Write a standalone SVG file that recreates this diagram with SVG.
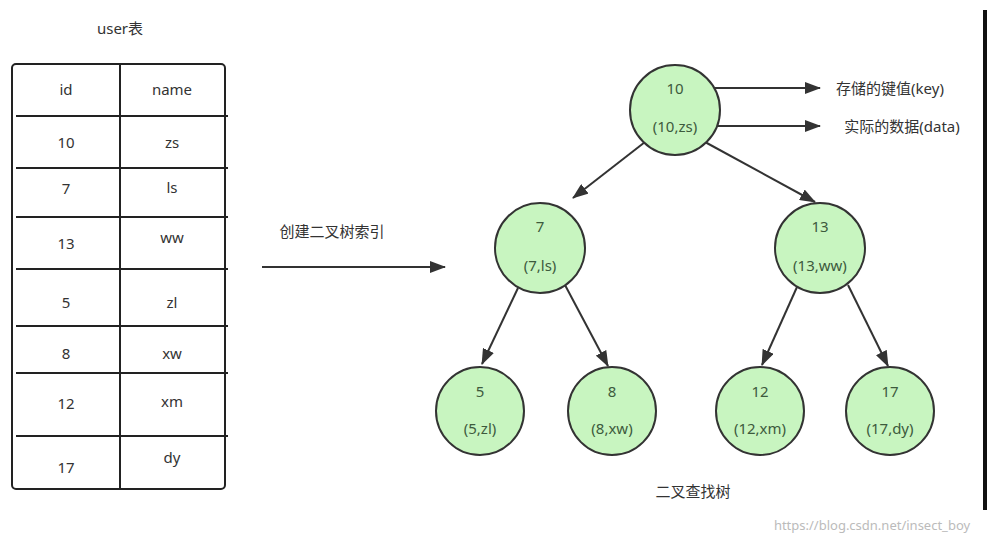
<svg xmlns="http://www.w3.org/2000/svg" width="991" height="543" viewBox="0 0 991 543">
<style>
text{font-family:"Microsoft YaHei","Noto Sans","Noto Sans CJK SC",sans-serif;font-size:15px;fill:#333;text-anchor:middle}
.n circle{fill:#c8f5c0;stroke:#333;stroke-width:2}
.n text{fill:#3d5a3d}
.t line{stroke:#222;stroke-width:2}
.c line{stroke:#333;stroke-width:2;marker-end:url(#a)}
</style>
<defs><marker id="a" markerWidth="16" markerHeight="12" refX="15" refY="6" orient="auto" markerUnits="userSpaceOnUse" viewBox="0 0 16 12"><path d="M0,0L16,6L0,12z" fill="#333"/></marker></defs>
<rect width="991" height="543" fill="#fff"/>
<rect x="983" y="10" width="4" height="500" fill="#111"/>
<text x="120" y="34">user表</text>
<g id="table" class="t">
<rect x="12" y="64" width="213" height="425" rx="4" fill="none" stroke="#222" stroke-width="2"/>
<line x1="120" y1="64" x2="120" y2="489"/>
<line x1="16" y1="116" x2="228" y2="116"/><line x1="16" y1="168" x2="228" y2="168"/><line x1="16" y1="217" x2="228" y2="217"/><line x1="16" y1="269" x2="228" y2="269"/><line x1="16" y1="326" x2="228" y2="326"/><line x1="16" y1="373" x2="228" y2="373"/><line x1="16" y1="436" x2="228" y2="436"/>
<text x="66" y="95">id</text><text x="172" y="95">name</text>
<text x="66" y="148">10</text><text x="172" y="148">zs</text>
<text x="66" y="194">7</text><text x="172" y="193">ls</text>
<text x="66" y="249">13</text><text x="172" y="243">ww</text>
<text x="66" y="308">5</text><text x="172" y="308">zl</text>
<text x="66" y="359">8</text><text x="172" y="359">xw</text>
<text x="66" y="409">12</text><text x="172" y="407">xm</text>
<text x="66" y="473">17</text><text x="172" y="463">dy</text>
</g>
<text x="332" y="237">创建二叉树索引</text>
<g class="c">
<line x1="262" y1="267" x2="445" y2="267"/>
<line x1="690" y1="88" x2="820" y2="88"/>
<line x1="713" y1="126" x2="820" y2="126"/>
<line x1="645" y1="142" x2="573" y2="198"/>
<line x1="705" y1="142" x2="815" y2="202"/>
<line x1="518" y1="288" x2="482" y2="364"/>
<line x1="565" y1="285" x2="608" y2="366"/>
<line x1="797" y1="287" x2="762" y2="365"/>
<line x1="848" y1="285" x2="888" y2="366"/>
</g>
<text x="890" y="94">存储的键值(key)</text>
<text x="902" y="132">实际的数据(data)</text>
<g id="n10" class="n"><circle cx="675" cy="110" r="45"/><text x="675" y="94">10</text><text x="675" y="132">(10,zs)</text></g>
<g id="n7" class="n"><circle cx="540" cy="248" r="45"/><text x="540" y="232">7</text><text x="540" y="271">(7,ls)</text></g>
<g id="n13" class="n"><circle cx="820" cy="248" r="45"/><text x="820" y="232">13</text><text x="820" y="271">(13,ww)</text></g>
<g id="n5" class="n"><circle cx="480" cy="411" r="44"/><text x="480" y="397">5</text><text x="480" y="434">(5,zl)</text></g>
<g id="n8" class="n"><circle cx="612" cy="411" r="44"/><text x="612" y="397">8</text><text x="612" y="434">(8,xw)</text></g>
<g id="n12" class="n"><circle cx="760" cy="411" r="44"/><text x="760" y="397">12</text><text x="760" y="434">(12,xm)</text></g>
<g id="n17" class="n"><circle cx="890" cy="411" r="44"/><text x="890" y="397">17</text><text x="890" y="434">(17,dy)</text></g>
<text x="693" y="497">二叉查找树</text>
<text x="872" y="530" style="font-size:13px;fill:#bbb">https://blog.csdn.net/insect_boy</text>
</svg>
